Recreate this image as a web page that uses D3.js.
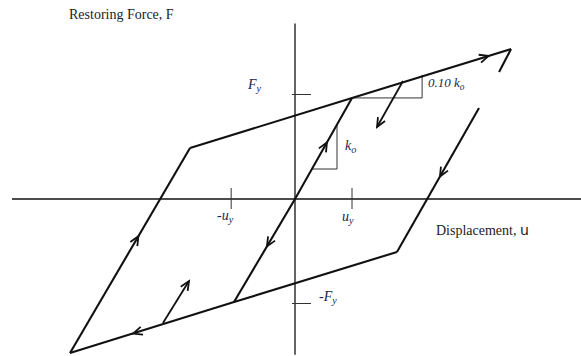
<!DOCTYPE html>
<html>
<head>
<meta charset="utf-8">
<script src="https://cdn.jsdelivr.net/npm/d3@7"></script>
<style>
  body { margin: 0; background: #fff; }
  svg { display: block; }
  .serif { font-family: "Liberation Serif", "Times New Roman", serif; }
</style>
</head>
<body>
<svg id="chart"></svg>
<script>
// Points of the bilinear hysteresis loop, in units of u_y and F_y
const pointNames = ["O", "A", "B", "B2", "C", "D", "E", "G", "H", "I", "J", "K", "L"];
const pointU = [0, 1.0, 3.79, 3.58, -1.842, -3.947, 1.789, 3.228, -1.07, -2.316, -1.86, 1.895, 1.439];
const pointF = [0, 0.967, 1.435, 1.215, 0.488, -1.474, -0.507, 0.871, -0.986, -1.187, -0.785, 1.129, 0.689];

// branches drawn as thick polylines
const branches = [
  ["H", "O", "A"],   // elastic branch through origin
  ["C", "A", "B"],   // upper yield branch
  ["B", "B2"],       // unloading from the peak
  ["C", "D"],        // reloading on the left
  ["D", "H", "E"],   // lower yield branch
  ["G", "E"]         // unloading on the right
];

// arrowheads sitting on branches: [from, to, fraction]
const arrowsOnLines = [
  ["C", "B", 0.93],
  ["O", "A", 0.56],
  ["O", "H", 0.46],
  ["D", "C", 0.57],
  ["E", "D", 0.807],
  ["G", "E", 0.476]
];

// free arrows
const freeArrows = [["I", "J"], ["K", "L"]];

// axis extents and ticks
const axisU = [-4.965, 5.02];
const axisF = [1.68, -1.49];
const tickU = [-1.12, 1];
const tickF = [1, -1];

// slope triangles: k_o and 0.10 k_o
const triKo = [[0.298, 0.287], [0.737, 0.287], [0.737, 0.713]];
const triKp = [[1.0, 0.967], [2.23, 0.967], [2.23, 1.187]];

const width = 581, height = 356;
const svg = d3.select("#chart").attr("width", width).attr("height", height);

const x = d3.scaleLinear().domain([0, 1]).range([295, 352]);
const y = d3.scaleLinear().domain([0, 1]).range([199, 94.5]);

const pt = {};
pointNames.forEach((n, i) => { pt[n] = [pointU[i], pointF[i]]; });

const ink = "#111";
const labelInk = "#1d2452";

// axes
svg.append("line")
  .attr("x1", x(axisU[0])).attr("x2", x(axisU[1]))
  .attr("y1", y(0)).attr("y2", y(0))
  .attr("stroke", ink).attr("stroke-width", 1.3);
svg.append("line")
  .attr("x1", x(0)).attr("x2", x(0))
  .attr("y1", y(axisF[0])).attr("y2", y(axisF[1]))
  .attr("stroke", ink).attr("stroke-width", 1.3);

// ticks
tickU.forEach(u => {
  svg.append("line")
    .attr("x1", x(u)).attr("x2", x(u))
    .attr("y1", y(0) - 11).attr("y2", y(0) + 10)
    .attr("stroke", "#333").attr("stroke-width", 1);
});
tickF.forEach(f => {
  svg.append("line")
    .attr("x1", x(0) - 3).attr("x2", x(0) + 16)
    .attr("y1", y(f)).attr("y2", y(f))
    .attr("stroke", "#333").attr("stroke-width", 1);
});

// slope triangles
[triKo, triKp].forEach(t => {
  svg.append("path")
    .attr("d", d3.line().x(d => x(d[0])).y(d => y(d[1]))(t))
    .attr("fill", "none").attr("stroke", "#333").attr("stroke-width", 1);
});

// branches
const line = d3.line().x(n => x(pt[n][0])).y(n => y(pt[n][1]));
svg.selectAll(".branch")
  .data(branches)
  .enter()
  .append("path")
  .attr("class", "branch")
  .attr("d", line)
  .attr("fill", "none")
  .attr("stroke", ink)
  .attr("stroke-width", 2.1)
  .attr("stroke-linejoin", "miter");

// open V arrowhead with apex at (px, py) pointing along angle a
function arrowHead(px, py, a) {
  const len = 10, spread = 0.42;
  const p1 = [px - len * Math.cos(a - spread), py - len * Math.sin(a - spread)];
  const p2 = [px - len * Math.cos(a + spread), py - len * Math.sin(a + spread)];
  svg.append("path")
    .attr("d", `M${p1[0]},${p1[1]}L${px},${py}L${p2[0]},${p2[1]}`)
    .attr("fill", "none").attr("stroke", ink).attr("stroke-width", 1.8)
    .attr("stroke-linejoin", "miter");
}

arrowsOnLines.forEach(([a, b, t]) => {
  const x0 = x(pt[a][0]), y0 = y(pt[a][1]);
  const x1 = x(pt[b][0]), y1 = y(pt[b][1]);
  arrowHead(x0 + (x1 - x0) * t, y0 + (y1 - y0) * t, Math.atan2(y1 - y0, x1 - x0));
});

freeArrows.forEach(([a, b]) => {
  const x0 = x(pt[a][0]), y0 = y(pt[a][1]);
  const x1 = x(pt[b][0]), y1 = y(pt[b][1]);
  svg.append("line")
    .attr("x1", x0).attr("y1", y0).attr("x2", x1).attr("y2", y1)
    .attr("stroke", ink).attr("stroke-width", 1.8);
  arrowHead(x1, y1, Math.atan2(y1 - y0, x1 - x0));
});

// axis titles
svg.append("text").attr("class", "serif")
  .attr("x", 69).attr("y", 19)
  .attr("font-size", 14).attr("fill", "#222")
  .text("Restoring Force, F");

const dispTitle = svg.append("text").attr("class", "serif")
  .attr("x", 436).attr("y", 235)
  .attr("font-size", 14).attr("fill", "#222");
dispTitle.append("tspan").text("Displacement, ");
dispTitle.append("tspan").attr("font-family", "'DejaVu Sans', sans-serif").attr("font-size", 14).text("u");

// italic symbol labels with subscripts
function symbol(px, py, main, sub, size) {
  const t = svg.append("text").attr("class", "serif")
    .attr("x", px).attr("y", py)
    .attr("font-size", size || 14).attr("font-style", "italic")
    .attr("fill", labelInk);
  t.append("tspan").text(main);
  t.append("tspan").attr("dy", 3).attr("font-size", (size || 14) * 0.72).text(sub);
}

symbol(248, 89, "F", "y");
symbol(319, 301, "-F", "y");
symbol(217, 220, "-u", "y");
symbol(342, 221, "u", "y");
symbol(345, 150, "k", "o");
symbol(428, 87, "0.10 k", "o", 13);
</script>
</body>
</html>
